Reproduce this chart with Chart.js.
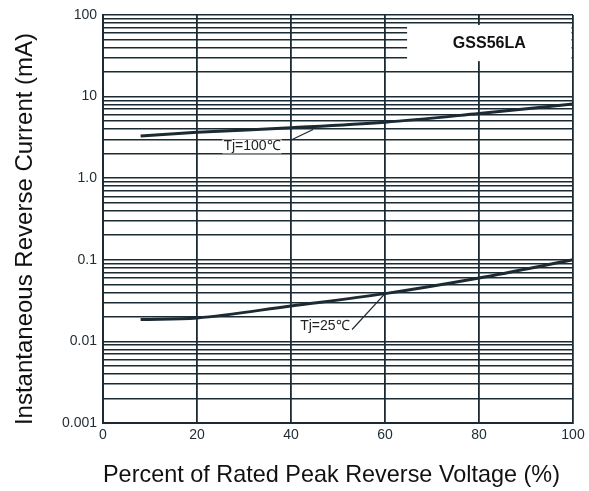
<!DOCTYPE html>
<html>
<head>
<meta charset="utf-8">
<script src="https://cdn.jsdelivr.net/npm/chart.js@4/dist/chart.umd.min.js"></script>
<style>
    html,body{margin:0;padding:0;background:#fff;}
    #wrap{width:589px;height:491px;}
</style>
</head>
<body>
<div id="wrap"><canvas id="leakChart" width="589" height="491"></canvas></div>
<script>

// ======================================
// Data
// ======================================

const voltagePct = [8, 20, 40, 60, 80, 100];

const current100C = [3.3, 3.65, 4.15, 4.85, 6.2, 8.1];

const current25C = [0.0185, 0.0194, 0.0272, 0.0385, 0.0598, 0.1];

const xTicks = [0, 20, 40, 60, 80, 100];

const yDecades = [0.001, 0.01, 0.1, 1, 10, 100];

const yTickLabels = ["0.001", "0.01", "0.1", "1.0", "10", "100"];

const partName = "GSS56LA";

// annotation anchors in data units
const notes = [
    { text:"Tj=100\u2103", at:[31.7, 2.45], from:[39.8, 2.9], to:[44.7, 3.96] },
    { text:"Tj=25\u2103",  at:[47.2, 0.0152], from:[53, 0.014], to:[60, 0.0385] }
];

const nameBox = { x0:64.7, x1:100, y0:27.2, y1:75.5 };

// ======================================

const ink = "#1b2a33";

function points(xs, ys){
    return xs.map((x,i)=>({x:x, y:ys[i]}));
}

function allLogTicks(){
    const out = [];
    for(let d=0; d<yDecades.length; d++){
        const base = yDecades[d];
        out.push({value:base});
        if(d < yDecades.length-1){
            for(let k=2; k<=9; k++){
                out.push({value:base*k});
            }
        }
    }
    return out;
}

function labelFor(v){
    for(let i=0; i<yDecades.length; i++){
        if(Math.abs(v - yDecades[i]) < yDecades[i]*1e-6) return yTickLabels[i];
    }
    return "";
}

// ======================================
// Overlay: part name box + curve labels
// ======================================

const overlay = {

    id:"overlay",

    beforeDatasetsDraw(chart){

        const {ctx, scales:{x, y}} = chart;

        const left = x.getPixelForValue(nameBox.x0);
        const right = x.getPixelForValue(nameBox.x1) - 1.5;
        const top = y.getPixelForValue(nameBox.y1);
        const bottom = y.getPixelForValue(nameBox.y0);

        ctx.save();
        ctx.fillStyle = "#fff";
        ctx.fillRect(left, top, right-left, bottom-top);

        ctx.fillStyle = "#111";
        ctx.font = "bold 16px 'Liberation Sans', Arial, sans-serif";
        ctx.textAlign = "center";
        ctx.textBaseline = "middle";
        ctx.fillText(partName, (left+right)/2, (top+bottom)/2 + 1);
        ctx.restore();

    },

    afterDatasetsDraw(chart){

        const {ctx, scales:{x, y}} = chart;

        ctx.save();

        notes.forEach(n=>{

            ctx.strokeStyle = ink;
            ctx.lineWidth = 1.2;
            ctx.beginPath();
            ctx.moveTo(x.getPixelForValue(n.from[0]), y.getPixelForValue(n.from[1]));
            ctx.lineTo(x.getPixelForValue(n.to[0]), y.getPixelForValue(n.to[1]));
            ctx.stroke();

            const tx = x.getPixelForValue(n.at[0]);
            const ty = y.getPixelForValue(n.at[1]);
            ctx.font = "14px 'Liberation Sans', Arial, sans-serif";
            const w = ctx.measureText(n.text).width;
            ctx.fillStyle = "#fff";
            ctx.fillRect(tx - w/2 - 1, ty - 7, w + 2, 14);
            ctx.fillStyle = "#222";
            ctx.textAlign = "center";
            ctx.textBaseline = "middle";
            ctx.fillText(n.text, tx, ty);

        });

        ctx.restore();

    }

};

// ======================================
// Chart
// ======================================

const font = "'Liberation Sans', Arial, sans-serif";

new Chart(document.getElementById("leakChart"), {

    type:"line",

    data:{
        datasets:[
            {
                label:"Tj=100\u2103",
                data:points(voltagePct, current100C),
                borderColor:ink,
                borderWidth:3,
                pointRadius:0,
                cubicInterpolationMode:"monotone",
                fill:false
            },
            {
                label:"Tj=25\u2103",
                data:points(voltagePct, current25C),
                borderColor:ink,
                borderWidth:3,
                pointRadius:0,
                cubicInterpolationMode:"monotone",
                fill:false
            }
        ]
    },

    options:{

        responsive:false,
        animation:false,

        layout:{
            padding:{top:15, right:16, left:0, bottom:0}
        },

        plugins:{
            legend:{display:false},
            tooltip:{enabled:false}
        },

        scales:{

            x:{
                type:"linear",
                min:0,
                max:100,
                afterBuildTicks(scale){
                    scale.ticks = xTicks.map(v=>({value:v}));
                },
                afterFit(scale){
                    scale.height = 68;
                },
                grid:{
                    color:ink,
                    lineWidth:1.8,
                    drawTicks:false
                },
                border:{color:ink, width:2},
                ticks:{
                    color:"#1e2b33",
                    padding:4,
                    maxRotation:0,
                    font:{family:font, size:14}
                },
                title:{
                    display:true,
                    // trailing spaces nudge the centred title left like the original
                    text:"Percent of Rated Peak Reverse Voltage (%)\u00a0\u00a0",
                    color:"#111",
                    padding:{top:0, bottom:1.6},
                    font:{family:font, size:24}
                }
            },

            y:{
                type:"logarithmic",
                min:0.001,
                max:100,
                afterBuildTicks(scale){
                    scale.ticks = allLogTicks();
                },
                afterFit(scale){
                    scale.width = 103;
                },
                grid:{
                    color:ink,
                    lineWidth:1.5,
                    drawTicks:false
                },
                border:{color:ink, width:2},
                ticks:{
                    autoSkip:false,
                    color:"#1e2b33",
                    padding:6,
                    font:{family:font, size:14},
                    callback:(v)=>labelFor(v)
                },
                title:{
                    display:true,
                    text:"Instantaneous Reverse Current (mA)\u00a0\u00a0\u00a0",
                    color:"#111",
                    padding:{top:10.6, bottom:0},
                    font:{family:font, size:24}
                }
            }

        }

    },

    plugins:[overlay]

});

</script>
</body>
</html>
